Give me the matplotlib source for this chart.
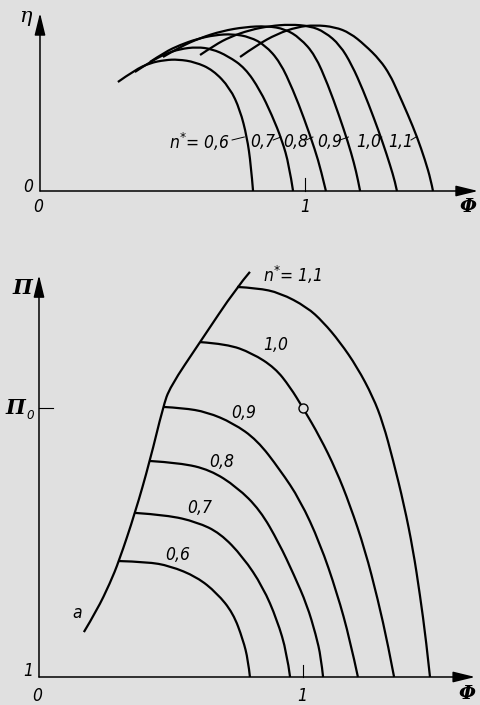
import matplotlib
matplotlib.use("Agg")
import matplotlib.pyplot as plt
from matplotlib.path import Path
from matplotlib.patches import PathPatch

# ------------------------------------------------------------
# Compressor map: efficiency (top) and pressure ratio (bottom)
# over flow coefficient Phi, one curve per reduced speed n*
# ------------------------------------------------------------
speeds = ["0,6", "0,7", "0,8", "0,9", "1,0", "1,1"]

# efficiency curves eta(Phi)
eta_phi = [
    [0.294, 0.358, 0.415, 0.472, 0.521, 0.585, 0.653, 0.717, 0.755, 0.781, 0.796, 0.804],
    [0.358, 0.415, 0.472, 0.528, 0.592, 0.649, 0.709, 0.774, 0.830, 0.875, 0.913, 0.940, 0.955],
    [0.415, 0.472, 0.528, 0.592, 0.660, 0.728, 0.792, 0.849, 0.906, 0.955, 0.996, 1.038, 1.060, 1.079],
    [0.464, 0.528, 0.604, 0.687, 0.774, 0.857, 0.925, 0.981, 1.038, 1.087, 1.128, 1.162, 1.185, 1.200, 1.208],
    [0.604, 0.660, 0.717, 0.792, 0.868, 0.943, 1.019, 1.075, 1.132, 1.177, 1.219, 1.260, 1.294, 1.321, 1.340, 1.347],
    [0.755, 0.819, 0.894, 0.970, 1.038, 1.113, 1.170, 1.226, 1.283, 1.321, 1.347, 1.389, 1.423, 1.453, 1.475, 1.483],
]
eta_val = [
    [0.545, 0.605, 0.640, 0.655, 0.658, 0.645, 0.605, 0.515, 0.405, 0.270, 0.130, 0.0],
    [0.595, 0.645, 0.685, 0.710, 0.720, 0.710, 0.675, 0.615, 0.505, 0.380, 0.255, 0.130, 0.0],
    [0.645, 0.695, 0.730, 0.760, 0.780, 0.785, 0.770, 0.730, 0.645, 0.505, 0.365, 0.205, 0.105, 0.0],
    [0.670, 0.720, 0.765, 0.800, 0.820, 0.825, 0.810, 0.765, 0.680, 0.530, 0.380, 0.245, 0.140, 0.055, 0.0],
    [0.680, 0.730, 0.770, 0.805, 0.825, 0.833, 0.825, 0.795, 0.730, 0.630, 0.505, 0.365, 0.240, 0.130, 0.045, 0.0],
    [0.670, 0.730, 0.785, 0.820, 0.830, 0.820, 0.790, 0.730, 0.655, 0.580, 0.505, 0.380, 0.270, 0.155, 0.055, 0.0],
]

# pressure ratio curves Pi(Phi), Pi_0 = 2
pi_phi = [
    [0.303, 0.409, 0.496, 0.598, 0.674, 0.735, 0.773, 0.792, 0.799],
    [0.364, 0.485, 0.598, 0.686, 0.773, 0.848, 0.902, 0.939, 0.951],
    [0.420, 0.534, 0.648, 0.750, 0.837, 0.909, 0.966, 1.015, 1.049, 1.068, 1.076],
    [0.470, 0.545, 0.636, 0.735, 0.826, 0.913, 0.989, 1.064, 1.129, 1.178, 1.208],
    [0.610, 0.712, 0.807, 0.894, 0.951, 1.000, 1.064, 1.125, 1.178, 1.235, 1.284, 1.322, 1.345],
    [0.750, 0.826, 0.913, 1.015, 1.076, 1.140, 1.205, 1.265, 1.303, 1.341, 1.383, 1.417, 1.443, 1.466, 1.481],
]
pi_val = [
    [1.431, 1.428, 1.413, 1.372, 1.312, 1.238, 1.138, 1.063, 1.0],
    [1.610, 1.602, 1.576, 1.535, 1.446, 1.335, 1.212, 1.089, 1.0],
    [1.803, 1.796, 1.770, 1.706, 1.621, 1.498, 1.379, 1.268, 1.156, 1.074, 1.0],
    [2.004, 2.000, 1.985, 1.944, 1.881, 1.770, 1.658, 1.498, 1.312, 1.138, 1.0],
    [2.245, 2.238, 2.204, 2.149, 2.078, 2.000, 1.892, 1.770, 1.639, 1.472, 1.286, 1.119, 1.0],
    [2.450, 2.446, 2.428, 2.375, 2.320, 2.245, 2.152, 2.041, 1.944, 1.807, 1.639, 1.472, 1.305, 1.138, 1.0],
]

# surge line a
surge_phi = [0.170, 0.220, 0.269, 0.303, 0.364, 0.420, 0.470, 0.496, 0.610, 0.750, 0.799]
surge_pi = [1.167, 1.249, 1.349, 1.431, 1.610, 1.803, 2.004, 2.078, 2.245, 2.450, 2.506]

# design point
design_phi, design_pi = 1.0, 2.0

bg = "#e0e0e0"
num_font = dict(family="DejaVu Sans", fontstretch="condensed", style="italic", fontsize=12.5)
serif_it = dict(family="DejaVu Serif", style="italic")
greek_font = dict(family="DejaVu Serif", style="italic", weight="bold")

fig = plt.figure(figsize=(4.81, 7.05), dpi=100, facecolor=bg)


def curve(ax, xs, ys, lw=1.6):
    # quadratic spline through the read points (points act as control points)
    pts = list(zip(xs, ys))
    verts = [pts[0]]
    codes = [Path.MOVETO]
    for i in range(1, len(pts) - 1):
        if i == len(pts) - 2:
            end = pts[-1]
        else:
            end = ((pts[i][0] + pts[i + 1][0]) / 2, (pts[i][1] + pts[i + 1][1]) / 2)
        verts += [pts[i], end]
        codes += [Path.CURVE3, Path.CURVE3]
    ax.add_patch(PathPatch(Path(verts, codes), fill=False, lw=lw, ec="black",
                           capstyle="butt", joinstyle="round"))


def draw_axes(ax, x0, y0, x_end, y_end):
    arrow = dict(arrowstyle="-|>,head_length=0.9,head_width=0.22", lw=1.1,
                 color="black", shrinkA=0, shrinkB=0, mutation_scale=15)
    ax.annotate("", xy=(x_end, y0), xytext=(x0, y0), arrowprops=arrow)
    ax.annotate("", xy=(x0, y_end), xytext=(x0, y0), arrowprops=arrow)


# %%
# ------------------------------------------------------------
# Top: efficiency
# ------------------------------------------------------------
ax1 = fig.add_axes([0, 1 - 230 / 705, 1, 230 / 705])
ax1.set_facecolor(bg)
ax1.set_xlim(-0.1509, 1.6642)
ax1.set_ylim(-0.195, 0.955)
ax1.axis("off")

for xs, ys in zip(eta_phi, eta_val):
    curve(ax1, xs, ys)

draw_axes(ax1, 0, 0, 1.653, 0.89)
ax1.plot([1, 1], [0, 0.065], color="black", lw=0.8)

ax1.text(-0.057, 0.87, "η", ha="center", va="center", fontsize=15, **serif_it)
ax1.text(-0.045, 0.02, "0", ha="center", va="center", **num_font)
ax1.text(-0.008, -0.08, "0", ha="center", va="center", **num_font)
ax1.text(1.0, -0.08, "1", ha="center", va="center", **num_font)
ax1.text(1.615, -0.08, "Φ", ha="center", va="center", fontsize=14, **greek_font)

# curve labels with short leaders to the curves at eta = 0.27
label_x = [0.717, 0.842, 0.966, 1.094, 1.242, 1.362]
leader_x = [0.775, 0.913, 1.034, 1.168, 1.294, 1.423]
for i, (txt, lx, cx) in enumerate(zip(speeds, label_x, leader_x)):
    if i == 0:
        ax1.text(lx, 0.245, "n$^{*}$= " + txt, ha="right", va="center", **num_font)
        start = lx + 0.008
    else:
        ax1.text(lx, 0.245, txt, ha="center", va="center", **num_font)
        start = lx + 0.038
    ax1.plot([start, cx - 0.004], [0.255, 0.27], color="black", lw=0.7)

# %%
# ------------------------------------------------------------
# Bottom: pressure ratio
# ------------------------------------------------------------
ax2 = fig.add_axes([0, 0, 1, 465 / 705])
ax2.set_facecolor(bg)
ax2.set_xlim(-0.1477, 1.6742)
ax2.set_ylim(0.8959, 2.6245)
ax2.axis("off")

for xs, ys in zip(pi_phi, pi_val):
    curve(ax2, xs, ys)
curve(ax2, surge_phi, surge_pi)
ax2.plot(design_phi, design_pi, "o", ms=6.5, mfc=bg, mec="black", mew=1.0, zorder=5)

draw_axes(ax2, 0, 1.0, 1.652, 2.494)
ax2.plot([1, 1], [1.0, 1.045], color="black", lw=0.8)
ax2.plot([0, 0.053], [2.0, 2.0], color="black", lw=0.8)

ax2.text(-0.062, 2.446, "Π", ha="center", va="center", fontsize=15, **greek_font)
ax2.text(-0.088, 2.0, "Π", ha="center", va="center", fontsize=15, **greek_font)
ax2.text(-0.034, 1.972, "0", ha="center", va="center", family="DejaVu Sans",
         fontstretch="condensed", style="italic", fontsize=9.5)
ax2.text(-0.042, 1.022, "1", ha="center", va="center", **num_font)
ax2.text(-0.008, 0.929, "0", ha="center", va="center", **num_font)
ax2.text(0.996, 0.929, "1", ha="center", va="center", **num_font)
ax2.text(1.622, 0.937, "Φ", ha="center", va="center", fontsize=14, **greek_font)

pi_label_pos = [(0.527, 1.454), (0.610, 1.628), (0.693, 1.799), (0.777, 1.981), (0.898, 2.234)]
for txt, (x, y) in zip(speeds[:-1], pi_label_pos):
    ax2.text(x, y, txt, ha="center", va="center", **num_font)
ax2.text(0.848, 2.494, "n$^{*}$= " + speeds[-1], ha="left", va="center", **num_font)
ax2.text(0.144, 1.238, "a", ha="center", va="center", **num_font)

fig.savefig("out.png", dpi=100, facecolor=bg)
